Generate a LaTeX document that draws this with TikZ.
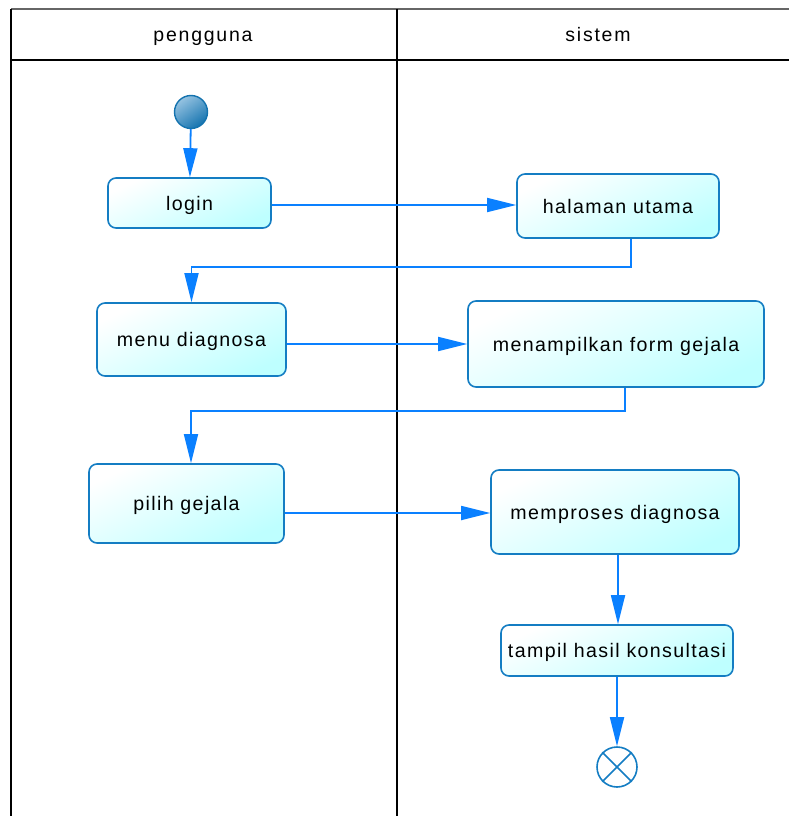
\documentclass[tikz,border=0pt]{standalone}
\usepackage{fontspec}
\setmainfont{Liberation Sans}
\newfontfamily\actfont[LetterSpace=7]{Liberation Sans}
\newfontfamily\lanefont[LetterSpace=9]{Liberation Sans}
\usetikzlibrary{arrows.meta}
\definecolor{flowc}{RGB}{10,128,255}
\definecolor{boxborder}{RGB}{20,125,195}
\definecolor{boxfill}{RGB}{190,255,255}
\definecolor{startlight}{RGB}{150,195,225}
\definecolor{startdark}{RGB}{20,115,175}
\tikzset{
  act/.style={draw=boxborder, line width=1.6pt, rounded corners=8pt,
    top color=white, bottom color=boxfill, shading angle=25,
    font=\actfont\fontsize{19.6}{22}\selectfont, inner sep=0pt, anchor=center,
    text height=14pt, text depth=0pt},
  flow/.style={draw=flowc, line width=1.8pt, -{Triangle[length=29pt,width=14pt]}},
  lane/.style={draw=black, line width=1.6pt},
  lanetext/.style={font=\lanefont\fontsize{19.5}{22}\selectfont, anchor=center,
    text height=14pt, text depth=0pt, inner sep=0pt},
}
\begin{document}
\begin{tikzpicture}[x=1pt,y=-1pt]
\useasboundingbox (0,0) rectangle (789,816);
\fill[white] (0,0) rectangle (789,816);
% swimlanes
\draw[draw=black!60, line width=1.2pt] (11,9) -- (789,9);
\draw[lane] (11,9) -- (11,816);
\draw[lane] (397,9) -- (397,816);
\draw[lane] (11,60) -- (789,60);
\node[lanetext] (lp) at (203,35) {pengguna};
\node[lanetext] (ls) at (598,35) {sistem};
% start
\node[circle, draw=startdark, line width=1.4pt, minimum size=33pt, inner sep=0pt,
  top color=startlight, bottom color=startdark, shading angle=35] (start) at (191,112) {};
% activities
\node[act, minimum width=163pt, minimum height=50pt] (login) at (189.5,203) {login};
\node[act, minimum width=202pt, minimum height=64pt] (halaman) at (618,206) {halaman utama};
\node[act, minimum width=189pt, minimum height=73pt] (menu) at (191.5,339.5) {menu diagnosa};
\node[act, minimum width=296pt, minimum height=86pt] (form) at (616,344) {menampilkan form gejala};
\node[act, minimum width=195pt, minimum height=79pt] (pilih) at (186.5,503.5) {pilih gejala};
\node[act, minimum width=248pt, minimum height=84pt] (proses) at (615,512) {memproses diagnosa};
\node[act, minimum width=232pt, minimum height=51pt] (hasil) at (617,650.5) {tampil hasil konsultasi};
% end
\node[circle, draw=boxborder, line width=1.6pt, fill=white, minimum size=40pt, inner sep=0pt] (end) at (617,767) {};
\draw[boxborder, line width=1.6pt] (end.north east) -- (end.south west) (end.north west) -- (end.south east);
% connectors
\coordinate (k1) at (631,267);
\coordinate (k2) at (625,411);
\draw[flow] (start) -- (login);
\draw[flow] (login.east |- 0,205) -- (halaman.west |- 0,205);
\draw[flow] (halaman.south -| k1) -- (k1) -| (menu.north);
\draw[flow] (menu.east |- 0,344) -- (form.west |- 0,344);
\draw[flow] (form.south -| k2) -- (k2) -| ([xshift=4.5pt]pilih.north);
\draw[flow] (pilih.east |- 0,513) -- (proses.west |- 0,513);
\draw[flow] ([xshift=3pt]proses.south) -- ([xshift=1pt]hasil.north);
\draw[flow] (hasil.south) -- (end.north);
\end{tikzpicture}
\end{document}
